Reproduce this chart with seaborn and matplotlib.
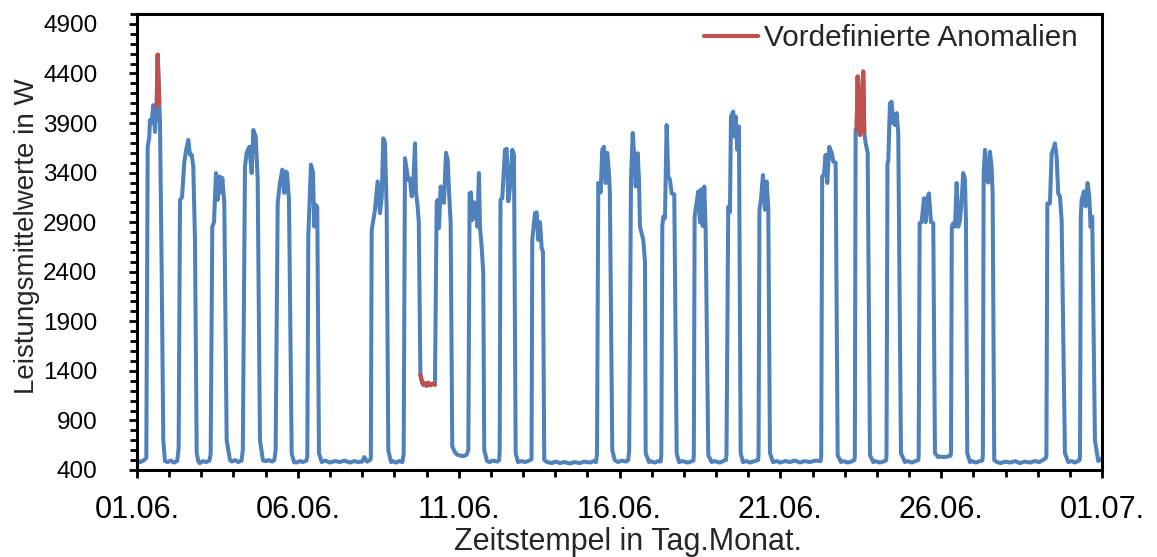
import matplotlib
matplotlib.use("Agg")
import matplotlib.pyplot as plt
from matplotlib.ticker import MultipleLocator
from matplotlib.lines import Line2D
import seaborn as sns
import pandas as pd

# ---- data (time in days since 01.06. 00:00, power in W) ----
zeit_tage = [
    0.000, 0.100, 0.200, 0.290, 0.333, 0.380, 0.404, 0.450, 0.507, 0.560, 0.612, 0.643, 0.693, 0.715, 0.768, 0.818, 0.870,
    0.950, 1.050, 1.150, 1.250,
    1.295, 1.337, 1.400, 1.470, 1.523, 1.595, 1.647, 1.700, 1.750, 1.803, 1.856, 1.906,
    1.950, 2.050, 2.150, 2.250,
    2.290, 2.341, 2.394, 2.456, 2.509, 2.580, 2.620, 2.652, 2.714, 2.788, 2.891,
    2.950, 3.050, 3.150, 3.250,
    3.290, 3.357, 3.410, 3.491, 3.565, 3.615, 3.690, 3.752, 3.823, 3.917,
    4.000, 4.100, 4.200, 4.270,
    4.310, 4.374, 4.445, 4.517, 4.579, 4.622, 4.663, 4.725, 4.809, 4.880,
    4.950, 5.067, 5.150, 5.270,
    5.295, 5.325, 5.409, 5.471, 5.511, 5.564, 5.604, 5.657, 5.742,
    5.850, 6.000, 6.150, 6.310, 6.450, 6.621, 6.750, 6.870, 7.000, 7.066, 7.150, 7.250,
    7.270, 7.296, 7.398, 7.482, 7.554, 7.607, 7.656, 7.709, 7.762, 7.812, 7.896,
    7.950, 8.050, 8.150, 8.250,
    8.290, 8.331, 8.433, 8.486, 8.539, 8.589, 8.642, 8.673, 8.726, 8.760,
    8.810, 8.860, 8.900, 8.960, 9.005, 9.060, 9.120, 9.190, 9.263,
    9.316, 9.347, 9.388, 9.440, 9.490, 9.543, 9.605, 9.658, 9.698, 9.751, 9.801,
    9.885, 9.950, 10.050, 10.150, 10.250,
    10.300, 10.340, 10.382, 10.423, 10.476, 10.538, 10.578, 10.631, 10.662, 10.715, 10.764, 10.795, 10.880,
    10.950, 11.066, 11.200, 11.260,
    11.275, 11.300, 11.355, 11.439, 11.492, 11.542, 11.595, 11.666, 11.719, 11.772, 11.843,
    11.950, 12.061, 12.200, 12.265,
    12.288, 12.372, 12.425, 12.474, 12.527, 12.580, 12.620, 12.660,
    12.750, 12.900, 13.000, 13.149, 13.300, 13.460, 13.600, 13.771, 13.900, 14.082, 14.200, 14.270,
    14.300, 14.340, 14.414, 14.464, 14.517, 14.570, 14.619, 14.672, 14.700, 14.750, 14.775, 14.850,
    14.950, 15.077, 15.200, 15.270,
    15.300, 15.357, 15.410, 15.450, 15.503, 15.565, 15.606, 15.636, 15.739, 15.792, 15.813, 15.916,
    15.950, 16.102, 16.200, 16.280,
    16.300, 16.330, 16.360, 16.413, 16.465, 16.515, 16.568, 16.621, 16.702, 16.777, 16.848,
    16.950, 17.128, 17.250, 17.300,
    17.310, 17.335, 17.377, 17.448, 17.501, 17.532, 17.585, 17.635, 17.678, 17.759, 17.864,
    17.950, 18.122, 18.250, 18.310,
    18.325, 18.380, 18.433, 18.465, 18.536, 18.567, 18.611, 18.661, 18.713, 18.766, 18.837,
    18.950, 19.055, 19.200, 19.310,
    19.322, 19.350, 19.397, 19.459, 19.521, 19.574, 19.624, 19.677, 19.770,
    19.900, 19.988, 20.150, 20.298, 20.450, 20.609, 20.750, 20.920, 21.100, 21.250,
    21.270, 21.300, 21.355, 21.408, 21.458, 21.520, 21.595, 21.644, 21.719, 21.781, 21.884,
    21.950, 22.101, 22.250, 22.300,
    22.315, 22.340, 22.372, 22.403, 22.474, 22.577, 22.608, 22.652, 22.714, 22.786, 22.889,
    22.950, 23.096, 23.250, 23.290,
    23.300, 23.330, 23.355, 23.407, 23.460, 23.510, 23.562, 23.615, 23.665, 23.749, 23.873,
    23.950, 24.091, 24.200, 24.290,
    24.300, 24.330, 24.392, 24.464, 24.517, 24.579, 24.619, 24.681, 24.753, 24.806, 24.908,
    24.950, 25.117, 25.250, 25.290,
    25.305, 25.330, 25.375, 25.428, 25.481, 25.530, 25.583, 25.636, 25.685, 25.738, 25.769, 25.810, 25.894,
    25.950, 26.080, 26.200, 26.280,
    26.295, 26.320, 26.360, 26.413, 26.463, 26.515, 26.568, 26.599, 26.649,
    26.733, 26.850, 26.982, 27.150, 27.293, 27.450, 27.603, 27.750, 27.914, 28.050, 28.163, 28.250,
    28.270, 28.300, 28.380, 28.433, 28.482, 28.535, 28.588, 28.637, 28.691, 28.744, 28.846, 28.949,
    29.050, 29.157, 29.250, 29.300,
    29.315, 29.340, 29.366, 29.437, 29.490, 29.552, 29.602, 29.645, 29.695, 29.779, 29.882, 30.000,
]

leistung_w = [
    500, 480, 495, 520, 3660, 3750, 3930, 3900, 4080, 3810, 4065, 4590, 4100, 3900, 2390, 700, 490,
    480, 495, 475, 490,
    620, 3125, 3150, 3500, 3620, 3730, 3580, 3580, 3460, 2720, 570, 490,
    470, 490, 480, 495,
    560, 2855, 2900, 3395, 3125, 3360, 3200, 3345, 3095, 700, 500,
    485, 500, 480, 495,
    600, 3460, 3600, 3660, 3395, 3830, 3765, 3325, 700, 495,
    490, 500, 485, 500,
    600, 3095, 3300, 3430, 3195, 3410, 3400, 3125, 570, 480,
    475, 490, 480, 495,
    540, 2755, 3480, 3400, 2855, 3075, 3050, 570, 480,
    495, 475, 490, 480, 495, 475, 490, 480, 485, 530, 485, 500,
    520, 2820, 3025, 3310, 2990, 3150, 3745, 3700, 3025, 600, 480,
    490, 475, 490, 480,
    560, 3545, 3325, 3340, 3160, 3280, 3695, 3200, 3055, 2900,
    1360, 1290, 1260, 1275, 1250, 1280, 1255, 1270, 1260,
    3095, 3125, 2840, 3260, 3150, 3095, 3600, 3530, 3225, 2890, 635,
    580, 555, 545, 540, 555,
    600, 3190, 3200, 2920, 3100, 3080, 2855, 3395, 2855, 2650, 2390, 600, 490,
    480, 495, 485, 500,
    600, 3125, 3140, 3630, 3640, 3110, 3250, 3630, 3580, 570, 480,
    490, 480, 495, 510,
    2720, 2990, 3000, 2720, 2900, 2640, 2600, 500,
    480, 470, 485, 470, 480, 465, 480, 470, 485, 475, 490, 480,
    560, 3295, 3200, 3630, 3660, 3295, 3600, 3395, 3200, 1500, 600, 500,
    480, 495, 485, 500,
    600, 3325, 3800, 3600, 3260, 3595, 3325, 2855, 2720, 2500, 570, 480,
    490, 475, 490, 485,
    560, 2855, 2955, 2940, 3880, 3360, 3330, 3190, 3180, 570, 480,
    490, 475, 490, 495,
    560, 2955, 3055, 3210, 2900, 3230, 2860, 3260, 2820, 550, 480,
    490, 475, 495, 500,
    560, 3055, 3000, 3965, 4015, 3765, 3965, 3630, 3865, 570, 480,
    490, 475, 490, 500,
    560, 3025, 3125, 3375, 3025, 3310, 3050, 570, 480,
    490, 475, 490, 480, 495, 475, 490, 480, 495, 490,
    540, 3360, 3380, 3580, 3295, 3660, 3600, 3510, 3500, 550, 480,
    490, 475, 490, 500,
    540, 3830, 3840, 4370, 3780, 4420, 3800, 3695, 3600, 550, 480,
    490, 475, 490, 500,
    560, 3495, 3520, 4100, 4115, 3900, 3880, 4000, 3800, 570, 480,
    490, 475, 490, 500,
    560, 2890, 2900, 3140, 2900, 3160, 3190, 2900, 2890, 570, 530,
    535, 530, 540, 545,
    580, 2855, 2890, 2855, 3295, 2855, 2920, 3125, 3395, 3330, 2920, 570, 480,
    490, 475, 490, 495,
    560, 3395, 3630, 3330, 3300, 3610, 3450, 3190, 500,
    480, 470, 485, 475, 490, 470, 485, 475, 490, 480, 500, 520,
    540, 3090, 3090, 3595, 3630, 3695, 3560, 3190, 3160, 2920, 570, 480,
    490, 475, 490, 500,
    540, 2955, 3125, 3210, 3060, 3295, 3160, 2850, 2955, 700, 490, 520,
]

# predefined anomalies (red)
anomalie1_zeit = [0.612, 0.643, 0.693]
anomalie1_w = [4065, 4590, 4100]
anomalie2_zeit = [8.810, 8.860, 8.900, 8.960, 9.005, 9.060, 9.120, 9.190, 9.263]
anomalie2_w = [1360, 1290, 1260, 1275, 1250, 1280, 1255, 1270, 1260]
anomalie3_zeit = [22.372, 22.403, 22.474, 22.577, 22.608]
anomalie3_w = [3840, 4370, 3780, 4420, 3800]

tick_tage = [0, 5, 10, 15, 20, 25, 30]
tick_labels = ["01.06.", "06.06.", "11.06.", "16.06.", "21.06.", "26.06.", "01.07."]
y_ticks = [400, 900, 1400, 1900, 2400, 2900, 3400, 3900, 4400, 4900]

BLUE = "#4F81BD"
RED = "#C0504D"

sns.set_style("white")
plt.rcParams["font.family"] = ["Liberation Sans", "DejaVu Sans"]

fig = plt.figure(figsize=(11.57, 5.57), dpi=100)
ax = fig.add_axes([0.1184, 0.1562, 0.8341, 0.8187])

df = pd.DataFrame({"t": zeit_tage, "w": leistung_w})
sns.lineplot(data=df, x="t", y="w", ax=ax, color=BLUE, linewidth=2.9,
             estimator=None, sort=False, legend=False)

for zt, zw in [(anomalie1_zeit, anomalie1_w), (anomalie2_zeit, anomalie2_w),
               (anomalie3_zeit, anomalie3_w)]:
    sns.lineplot(x=zt, y=zw, ax=ax, color=RED, linewidth=3.0,
                 estimator=None, sort=False, legend=False)

ax.set_xlim(0, 30)
ax.set_ylim(400, 5000)
ax.set_xticks(tick_tage)
ax.set_xticklabels(tick_labels)
ax.xaxis.set_minor_locator(MultipleLocator(1))
ax.set_yticks(y_ticks)
ax.yaxis.set_minor_locator(MultipleLocator(100))

ax.tick_params(axis="both", which="major", direction="out", length=6, width=2,
               colors="black")
ax.tick_params(axis="both", which="minor", direction="out", length=5, width=2,
               colors="black")
ax.tick_params(axis="x", which="both", bottom=True, top=False)
ax.tick_params(axis="y", which="both", left=True, right=False)
ax.tick_params(axis="x", which="major", pad=12, labelsize=22)
ax.tick_params(axis="y", which="major", pad=22.5, labelsize=17.5)

for s in ax.spines.values():
    s.set_visible(True)
    s.set_color("black")
    s.set_linewidth(2.2)

ax.set_xlabel("Zeitstempel in Tag.Monat.", fontsize=22)
ax.set_ylabel("Leistungsmittelwerte in W", fontsize=20)
ax.yaxis.set_label_coords(-0.101, 0.513)
ax.xaxis.set_label_coords(0.509, -0.125)

handle = Line2D([0], [0], color=RED, linewidth=3.0)
ax.legend([handle], ["Vordefinierte Anomalien"], loc="upper right", frameon=False,
          fontsize=21.4, handlelength=1.8, handletextpad=0.2, borderaxespad=0.1,
          bbox_to_anchor=(0.99, 1.01))

fig.savefig("out.png", dpi=100)
